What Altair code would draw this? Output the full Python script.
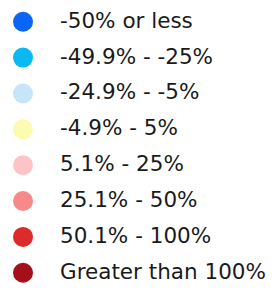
import altair as alt
import pandas as pd

labels = ["-50% or less", "-49.9% - -25%", "-24.9% - -5%", "-4.9% - 5%",
          "5.1% - 25%", "25.1% - 50%", "50.1% - 100%", "Greater than 100%"]
colors = ["#0a66f2", "#0ab8f2", "#c6e5f8", "#fdfbb2",
          "#fdc4c6", "#f98888", "#dd2b2b", "#a3101a"]

df = pd.DataFrame({"label": labels, "color": colors})

y = alt.Y("label:N", sort=labels, axis=None,
          scale=alt.Scale(type="point", padding=0.3485, align=0.55))

dots = alt.Chart(df).mark_circle(size=400, opacity=1).encode(
    x=alt.value(15),
    y=y,
    color=alt.Color("color:N", scale=None),
)

text = alt.Chart(df).mark_text(align="left", baseline="middle", font="DejaVu Sans",
                               fontSize=21.5, color="#1a1a1a").encode(
    x=alt.value(52),
    y=y,
    text="label:N",
)

chart = (dots + text).properties(
    width=258, height=276, padding=0,
    autosize=alt.AutoSizeParams(type="none"),
).configure_view(stroke=None)

chart.save("out.html", embed_options={"renderer": "svg", "actions": False})
